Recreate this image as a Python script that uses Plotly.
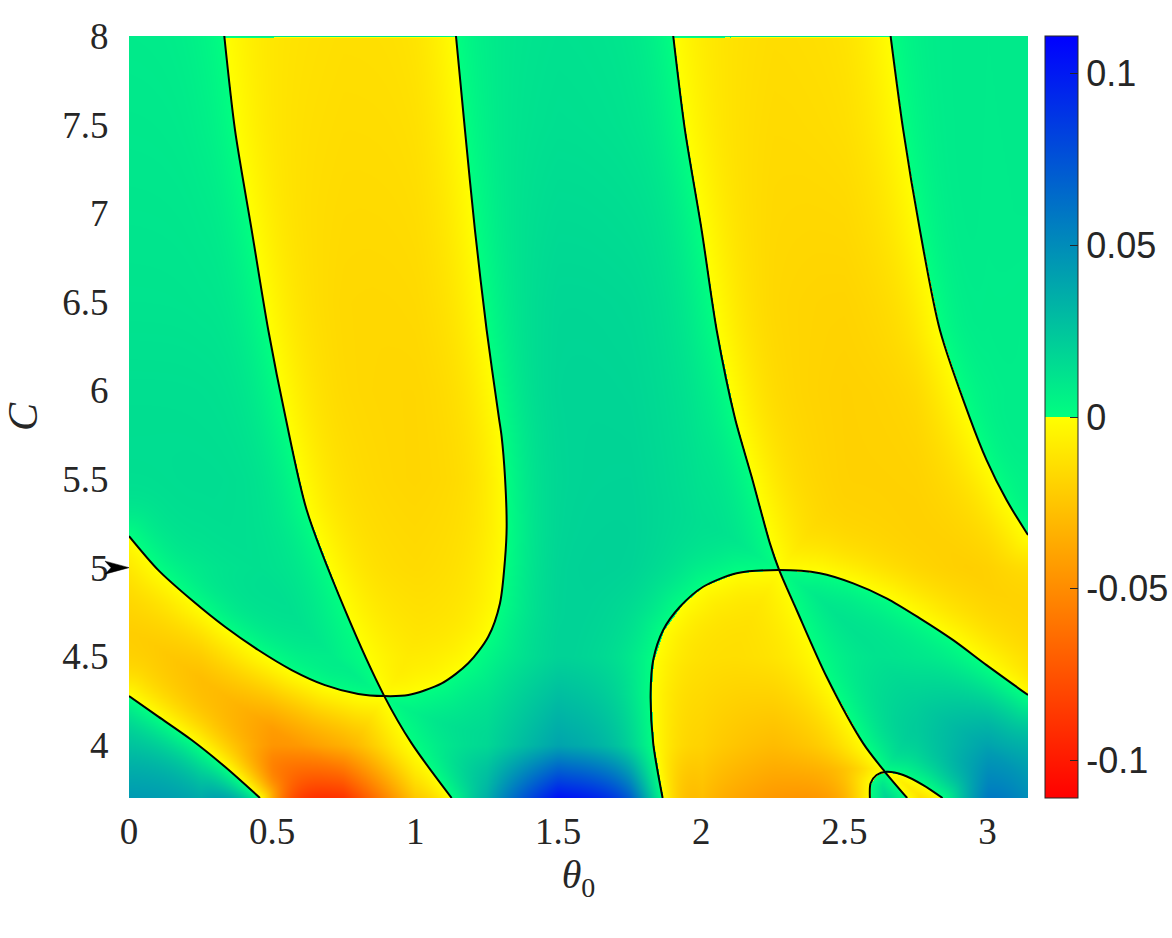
import numpy as np
import plotly.graph_objects as go

# ---------------- axes / ticks ----------------
theta_range = [0.0, float(np.pi)]
c_range = [3.7, 8.0]
color_limit = 0.111

x_tick_vals = [0, 0.5, 1, 1.5, 2, 2.5, 3]
x_tick_text = ["0", "0.5", "1", "1.5", "2", "2.5", "3"]
y_tick_vals = [4, 4.5, 5, 5.5, 6, 6.5, 7, 7.5, 8]
y_tick_text = ["4", "4.5", "5", "5.5", "6", "6.5", "7", "7.5", "8"]
cb_tick_vals = [-0.1, -0.05, 0, 0.05, 0.1]
cb_tick_text = ["-0.1", "-0.05", "0", "0.05", "0.1"]

marker_c = 5.0  # arrow marker on the C axis

# ---------------- zero-level curves (theta0, C) ----------------
curve_a_theta = [0.0, 0.1024, 0.2190, 0.3354, 0.4577]
curve_a_c = [4.275, 4.159, 4.027, 3.876, 3.700]

curve_b_theta = [0.0, 0.1024, 0.2191, 0.3354, 0.4518, 0.5685, 0.6848, 0.8012, 0.8920, 0.9759,
                 1.0926, 1.1855, 1.2554, 1.2963, 1.3138, 1.3197, 1.3138, 1.3022, 1.2928, 1.2498,
                 1.2089, 1.1740, 1.1426]
curve_b_c = [5.178, 4.986, 4.817, 4.666, 4.535, 4.422, 4.337, 4.287, 4.275, 4.281,
             4.347, 4.460, 4.610, 4.798, 5.043, 5.231, 5.513, 5.739, 5.844, 6.341,
             6.905, 7.470, 8.000]

curve_c_theta = [0.3330, 0.3704, 0.4287, 0.4867, 0.5475, 0.6209, 0.7547, 0.8920, 0.9878, 1.1275]
curve_c_c = [8.000, 7.470, 6.905, 6.341, 5.844, 5.325, 4.761, 4.275, 4.008, 3.700]

curve_d_theta = [1.9018, 1.9427, 2.0011, 2.0535, 2.1174, 2.1758, 2.2397, 2.2722, 2.3330, 2.4378,
                 2.5657, 2.6415, 2.7194]
curve_d_c = [8.000, 7.470, 6.905, 6.341, 5.844, 5.513, 5.137, 4.986, 4.761, 4.384,
             4.008, 3.848, 3.700]

curve_e_theta = [2.6614, 2.7055, 2.7638, 2.8337, 2.9385, 2.9969, 3.0667, 3.1416]
curve_e_c = [8.000, 7.470, 6.905, 6.341, 5.844, 5.607, 5.381, 5.184]

curve_f_theta = [1.8648, 1.8319, 1.8229, 1.8319, 1.8669, 1.9252, 2.0066, 2.1233, 2.2722, 2.4144,
                 2.5308, 2.6474, 2.7638, 2.8802, 2.9969, 3.1416]
curve_f_c = [3.700, 4.008, 4.291, 4.479, 4.648, 4.779, 4.892, 4.968, 4.986, 4.968,
             4.911, 4.827, 4.714, 4.591, 4.450, 4.281]

curve_g_theta = [2.5891, 2.5915, 2.6125, 2.6474, 2.7055, 2.7753, 2.8431]
curve_g_c = [3.700, 3.783, 3.830, 3.848, 3.830, 3.773, 3.700]

# ---------------- magnitude |value| read on a coarse grid ----------------
amp_theta = [0.0, 0.25, 0.5, 0.75, 1.0, 1.25, 1.5, 1.75, 2.0, 2.25, 2.5, 2.75, 3.0, 3.1416]
amp_c = [3.7, 4.0, 4.5, 5.0, 5.5, 6.0, 6.5, 7.0, 7.5, 8.0]
amp_values = [
    [0.045, 0.045, 0.110, 0.090, 0.035, 0.045, 0.105, 0.095, 0.035, 0.045, 0.052, 0.040, 0.068, 0.050],
    [0.032, 0.040, 0.052, 0.038, 0.015, 0.018, 0.040, 0.032, 0.022, 0.030, 0.025, 0.028, 0.042, 0.038],
    [0.024, 0.028, 0.018, 0.010, 0.011, 0.012, 0.020, 0.017, 0.015, 0.014, 0.013, 0.014, 0.018, 0.020],
    [0.018, 0.014, 0.014, 0.015, 0.016, 0.014, 0.020, 0.020, 0.015, 0.014, 0.019, 0.021, 0.022, 0.020],
    [0.015, 0.015, 0.015, 0.016, 0.018, 0.017, 0.019, 0.019, 0.014, 0.017, 0.020, 0.020, 0.016, 0.009],
    [0.014, 0.014, 0.014, 0.017, 0.018, 0.016, 0.019, 0.018, 0.014, 0.018, 0.020, 0.019, 0.010, 0.008],
    [0.012, 0.012, 0.014, 0.017, 0.017, 0.014, 0.018, 0.017, 0.014, 0.018, 0.019, 0.016, 0.009, 0.008],
    [0.011, 0.011, 0.014, 0.016, 0.016, 0.013, 0.016, 0.015, 0.014, 0.017, 0.017, 0.013, 0.009, 0.009],
    [0.010, 0.010, 0.013, 0.015, 0.015, 0.012, 0.014, 0.013, 0.013, 0.016, 0.015, 0.011, 0.009, 0.009],
    [0.009, 0.009, 0.012, 0.014, 0.014, 0.011, 0.013, 0.012, 0.012, 0.015, 0.014, 0.010, 0.009, 0.009],
]

# ---------------- figure geometry ----------------
W, H = 1172, 938
M_L, M_T = 129, 36
plot_w, plot_h = 899, 762
M_R = W - M_L - plot_w
M_B = H - M_T - plot_h
sx = plot_w / (theta_range[1] - theta_range[0])
sy = plot_h / (c_range[1] - c_range[0])
cbar_left_px = 1045

x0, x1 = theta_range
y0, y1 = c_range
curves = [
    (curve_a_theta, curve_a_c, [(x0, y0)]),
    (curve_b_theta, curve_b_c, [(x0, y1)]),
    (curve_c_theta, curve_c_c, [(x0, y0), (x0, y1)]),
    (curve_d_theta, curve_d_c, [(x0, y0), (x0, y1)]),
    (curve_e_theta, curve_e_c, [(x1, y0), (x0, y0), (x0, y1)]),
    (curve_f_theta, curve_f_c, [(x1, y0)]),
    (curve_g_theta, curve_g_c, []),
]

# ---------------- rendering grid ----------------
nx, ny = 450, 381
xf = np.linspace(x0, x1, nx)
yf = np.linspace(y0, y1, ny)
PX, PY = np.meshgrid(xf, yf)


def inside_polygon(px, py, poly_x, poly_y):
    inside = np.zeros(px.shape, dtype=bool)
    n = len(poly_x)
    j = n - 1
    for i in range(n):
        xi, yi = poly_x[i], poly_y[i]
        xj, yj = poly_x[j], poly_y[j]
        if yi != yj:
            cond = (yi > py) != (yj > py)
            xc = (xj - xi) * (py - yi) / (yj - yi) + xi
            inside ^= cond & (px < xc)
        j = i
    return inside


def dist_to_polyline(px, py, cx, cy):
    d = np.full(px.shape, np.inf)
    for k in range(len(cx) - 1):
        ax, ay, bx, by = cx[k], cy[k], cx[k + 1], cy[k + 1]
        dx, dy = bx - ax, by - ay
        L2 = dx * dx + dy * dy
        t = np.clip(((px - ax) * dx + (py - ay) * dy) / L2, 0, 1)
        d = np.minimum(d, np.hypot(px - ax - t * dx, py - ay - t * dy))
    return d


count = np.zeros(PX.shape, dtype=int)
dist = np.full(PX.shape, np.inf)
QX, QY = PX * sx, PY * sy
for cx, cy, closure in curves:
    poly_x = list(cx) + [p[0] for p in closure]
    poly_y = list(cy) + [p[1] for p in closure]
    count += inside_polygon(PX, PY, poly_x, poly_y).astype(int)
    dist = np.minimum(dist, dist_to_polyline(QX, QY, np.array(cx) * sx, np.array(cy) * sy))
sign = np.where(count % 2 == 0, 1.0, -1.0)

amp_arr = np.array(amp_values)
a_rows = np.array([np.interp(xf, amp_theta, row) for row in amp_arr])
amp = np.array([np.interp(yf, amp_c, a_rows[:, j]) for j in range(nx)]).T

falloff_px = 35.0
z = np.round(sign * amp * np.tanh(dist / falloff_px), 5)

colorscale = [
    [0.0, "rgb(255,0,0)"],
    [0.5, "rgb(255,255,0)"],
    [0.5, "rgb(0,255,128)"],
    [1.0, "rgb(0,0,255)"],
]

fig = go.Figure()
fig.add_trace(go.Heatmap(
    x=xf, y=yf, z=z,
    colorscale=colorscale, zmin=-color_limit, zmax=color_limit,
    zsmooth="best", hoverinfo="skip",
    colorbar=dict(
        x=1 + (cbar_left_px - (M_L + plot_w)) / plot_w, xanchor="left", xpad=0,
        y=0.5, yanchor="middle", len=1.0, lenmode="fraction", ypad=0,
        thickness=33, thicknessmode="pixels",
        outlinecolor="#262626", outlinewidth=1,
        tickvals=cb_tick_vals, ticktext=cb_tick_text,
        ticks="inside", ticklen=8, tickcolor="#262626", tickwidth=1,
        tickfont=dict(family="Liberation Sans, Arial, sans-serif", size=36, color="#262626"),
    ),
))

for cx, cy, _ in curves:
    fig.add_trace(go.Scatter(
        x=cx, y=cy, mode="lines",
        line=dict(color="black", width=2, shape="spline", smoothing=0.8),
        hoverinfo="skip", showlegend=False,
    ))

fig.add_shape(
    type="path", xref="paper", yref="y",
    xsizemode="pixel", ysizemode="pixel", xanchor=0, yanchor=marker_c,
    path="M 0 0 L -24 6.5 L -18 0 L -24 -6.5 Z",
    fillcolor="black", line=dict(color="black", width=0.5), layer="above",
)

serif = "Liberation Serif, DejaVu Serif, serif"
fig.update_layout(
    width=W, height=H,
    margin=dict(l=M_L, r=M_R, t=M_T, b=M_B, autoexpand=False),
    paper_bgcolor="white", plot_bgcolor="white",
    showlegend=False,
    xaxis=dict(
        range=theta_range, tickvals=x_tick_vals, ticktext=x_tick_text,
        showgrid=False, zeroline=False, showline=False,
        ticks="outside", ticklen=1, tickcolor="rgba(0,0,0,0)",
        tickfont=dict(family=serif, size=37, color="#262626"),
        title=dict(text="<i>θ</i><sub>0</sub>", font=dict(family=serif, size=40, color="#262626"), standoff=8),
    ),
    yaxis=dict(
        range=c_range, tickvals=y_tick_vals, ticktext=y_tick_text,
        showgrid=False, zeroline=False, showline=False,
        ticks="outside", ticklen=12, tickcolor="rgba(0,0,0,0)",
        tickfont=dict(family=serif, size=37, color="#262626"),
        title=dict(text="<i>C</i>", font=dict(family=serif, size=42, color="#262626"), standoff=12),
    ),
)

fig.write_html(
    "out.html",
    config={"displayModeBar": False},
    post_script="document.body.style.margin='0';document.body.style.overflow='hidden';",
)
